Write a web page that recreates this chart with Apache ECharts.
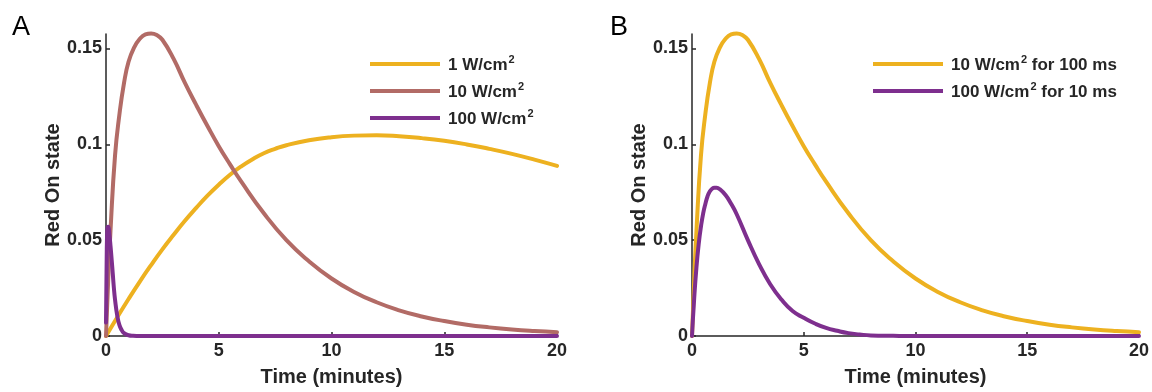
<!DOCTYPE html>
<html>
<head>
<meta charset="utf-8">
<script src="https://cdn.jsdelivr.net/npm/echarts@6/dist/echarts.min.js"></script>
<style>
html,body{margin:0;padding:0;background:#fff;}
#chart{width:1152px;height:392px;}
</style>
</head>
<body>
<div id="chart"></div>
<script>
// ---------- DATA ----------
const xTicks = [0, 5, 10, 15, 20];
const yTicks = [0, 0.05, 0.1, 0.15];

// Panel A
const namesA = ['1 W/cm²', '10 W/cm²', '100 W/cm²'];
const tA1 = [0,0.5,1,1.5,2,2.5,3,3.5,4,4.5,5,5.5,6,6.5,7,7.5,8,9,10,11,12,13,14,15,16,17,18,19,20];
const vA1 = [0,0.0098,0.0193,0.0284,0.037,0.0452,0.0528,0.0601,0.0668,0.0732,0.0789,0.0841,0.0885,0.0922,0.0953,0.0976,0.0995,0.1021,0.1037,0.1045,0.1047,0.1042,0.1032,0.1018,0.0999,0.0976,0.095,0.092,0.0887];
const tA2 = [0,0.1,0.2,0.4,0.6,0.8,1,1.25,1.5,1.75,2,2.25,2.5,3,3.5,4,4.5,5,5.5,6,7,8,9,10,11,12,13,14,15,16,17,18,19,20];
const vA2 = [0,0.03,0.055,0.094,0.116,0.132,0.143,0.1505,0.155,0.1573,0.1578,0.157,0.1545,0.1445,0.132,0.1205,0.1095,0.099,0.0895,0.0805,0.064,0.050,0.039,0.030,0.023,0.0176,0.0134,0.0102,0.0078,0.0059,0.0045,0.0034,0.0026,0.002];
const tA3 = [0,0.03,0.06,0.1,0.15,0.2,0.25,0.3,0.35,0.4,0.5,0.6,0.7,0.8,1,1.2,1.5,2,5,10,15,20];
const vA3 = [0.007,0.04,0.056,0.057,0.053,0.047,0.040,0.0325,0.025,0.019,0.0105,0.0055,0.003,0.0015,0.0004,0.0001,0,0,0,0,0,0];

// Panel B
const namesB = ['10 W/cm² for 100 ms', '100 W/cm² for 10 ms'];
const tB1 = [0,0.1,0.2,0.4,0.6,0.8,1,1.25,1.5,1.75,2,2.25,2.5,3,3.5,4,4.5,5,5.5,6,7,8,9,10,11,12,13,14,15,16,17,18,19,20];
const vB1 = [0,0.03,0.055,0.094,0.116,0.132,0.143,0.1505,0.155,0.1573,0.1578,0.157,0.1545,0.1445,0.132,0.1205,0.1095,0.099,0.0895,0.0805,0.064,0.050,0.039,0.030,0.023,0.0176,0.0134,0.0102,0.0078,0.0059,0.0045,0.0034,0.0026,0.002];
const tB2 = [0,0.1,0.2,0.3,0.4,0.5,0.6,0.7,0.8,0.9,1,1.1,1.25,1.5,1.75,2,2.5,3,3.5,4,4.5,5,5.5,6,6.5,7,7.5,8,9,10,15,20];
const vB2 = [0,0.02,0.036,0.048,0.057,0.064,0.069,0.073,0.0755,0.0768,0.0773,0.0773,0.0765,0.0735,0.069,0.0635,0.050,0.0375,0.027,0.019,0.013,0.0095,0.0065,0.0042,0.0027,0.0015,0.0008,0.0003,0.0001,0,0,0];

// ---------- STYLE ----------
const colYellow = '#EDB120';
const colMaroon = '#B26B66';
const colPurple = '#7E2F8E';
const txt = '#262626';
const fontFam = '"Liberation Sans", Arial, sans-serif';

const zip = (t, v) => t.map((x, i) => [x, v[i]]);

function legendFmt(name) {
  const parts = name.split('²');
  return '{b|' + parts[0] + '}{sup|2}' + (parts[1] ? '{b|' + parts[1] + '}' : '');
}
const legendRich = {
  b: {fontSize: 17, fontWeight: 'bold', color: txt, fontFamily: fontFam, lineHeight: 20, verticalAlign: 'bottom'},
  sup: {fontSize: 11, fontWeight: 'bold', color: txt, fontFamily: fontFam, lineHeight: 20, verticalAlign: 'top', padding: [0, 0, 0, 1]}
};

function xAxisCfg(gi) {
  return {
    type: 'value', gridIndex: gi, min: 0, max: 20, interval: 5,
    name: 'Time (minutes)', nameLocation: 'middle', nameGap: 31,
    nameTextStyle: {fontSize: 20, fontWeight: 'bold', color: txt, fontFamily: fontFam},
    axisLine: {show: true, lineStyle: {color: txt, width: 1.5}},
    axisTick: {show: true, inside: true, length: 4, customValues: xTicks, lineStyle: {color: txt, width: 1.5}},
    axisLabel: {fontSize: 18, fontWeight: 'bold', color: txt, fontFamily: fontFam, margin: 6,
      customValues: xTicks, formatter: v => String(v)},
    splitLine: {show: false}
  };
}
function yAxisCfg(gi) {
  return {
    type: 'value', gridIndex: gi, min: 0, max: 0.1575, interval: 0.05,
    name: 'Red On state', nameLocation: 'middle', nameGap: 41,
    nameTextStyle: {fontSize: 20, fontWeight: 'bold', color: txt, fontFamily: fontFam},
    axisLine: {show: true, lineStyle: {color: txt, width: 1.5}},
    axisTick: {show: true, inside: true, length: 4, customValues: yTicks, lineStyle: {color: txt, width: 1.5}},
    axisLabel: {fontSize: 18, fontWeight: 'bold', color: txt, fontFamily: fontFam, margin: 4,
      customValues: yTicks,
      formatter: v => { const m = yTicks.find(t => Math.abs(t - v) < 1e-9); return m === undefined ? '' : String(m); }},
    splitLine: {show: false}
  };
}
function lineSeries(name, data, color, gi) {
  return {
    type: 'line', name, data, xAxisIndex: gi, yAxisIndex: gi,
    color, showSymbol: false, symbol: 'none', smooth: 0.5, clip: false,
    lineStyle: {width: 4, color, cap: 'round', join: 'round'},
    emphasis: {disabled: true}, animation: false
  };
}

const chart = echarts.init(document.getElementById('chart'), null, {renderer: 'canvas'});
chart.setOption({
  backgroundColor: '#fff',
  animation: false,
  textStyle: {fontFamily: fontFam},
  grid: [
    {left: 106, top: 34, width: 451, height: 305},
    {left: 692, top: 34, width: 448, height: 305}
  ],
  xAxis: [xAxisCfg(0), xAxisCfg(1)],
  yAxis: [yAxisCfg(0), yAxisCfg(1)],
  legend: [
    {data: namesA, orient: 'vertical', left: 370, top: 54, padding: 0, itemGap: 7, itemWidth: 70, itemHeight: 4,
     icon: 'rect', selectedMode: false, formatter: legendFmt,
     textStyle: {rich: legendRich, padding: [0, 0, 0, 3]}},
    {data: namesB, orient: 'vertical', left: 873, top: 54, padding: 0, itemGap: 7, itemWidth: 70, itemHeight: 4,
     icon: 'rect', selectedMode: false, formatter: legendFmt,
     textStyle: {rich: legendRich, padding: [0, 0, 0, 3]}}
  ],
  graphic: [
    {type: 'text', left: 12, top: 14, style: {text: 'A', fontSize: 27, fill: '#000', fontFamily: fontFam}},
    {type: 'text', left: 610, top: 14, style: {text: 'B', fontSize: 27, fill: '#000', fontFamily: fontFam}}
  ],
  series: [
    lineSeries(namesA[0], zip(tA1, vA1), colYellow, 0),
    lineSeries(namesA[1], zip(tA2, vA2), colMaroon, 0),
    lineSeries(namesA[2], zip(tA3, vA3), colPurple, 0),
    lineSeries(namesB[0], zip(tB1, vB1), colYellow, 1),
    lineSeries(namesB[1], zip(tB2, vB2), colPurple, 1)
  ]
});
</script>
</body>
</html>
